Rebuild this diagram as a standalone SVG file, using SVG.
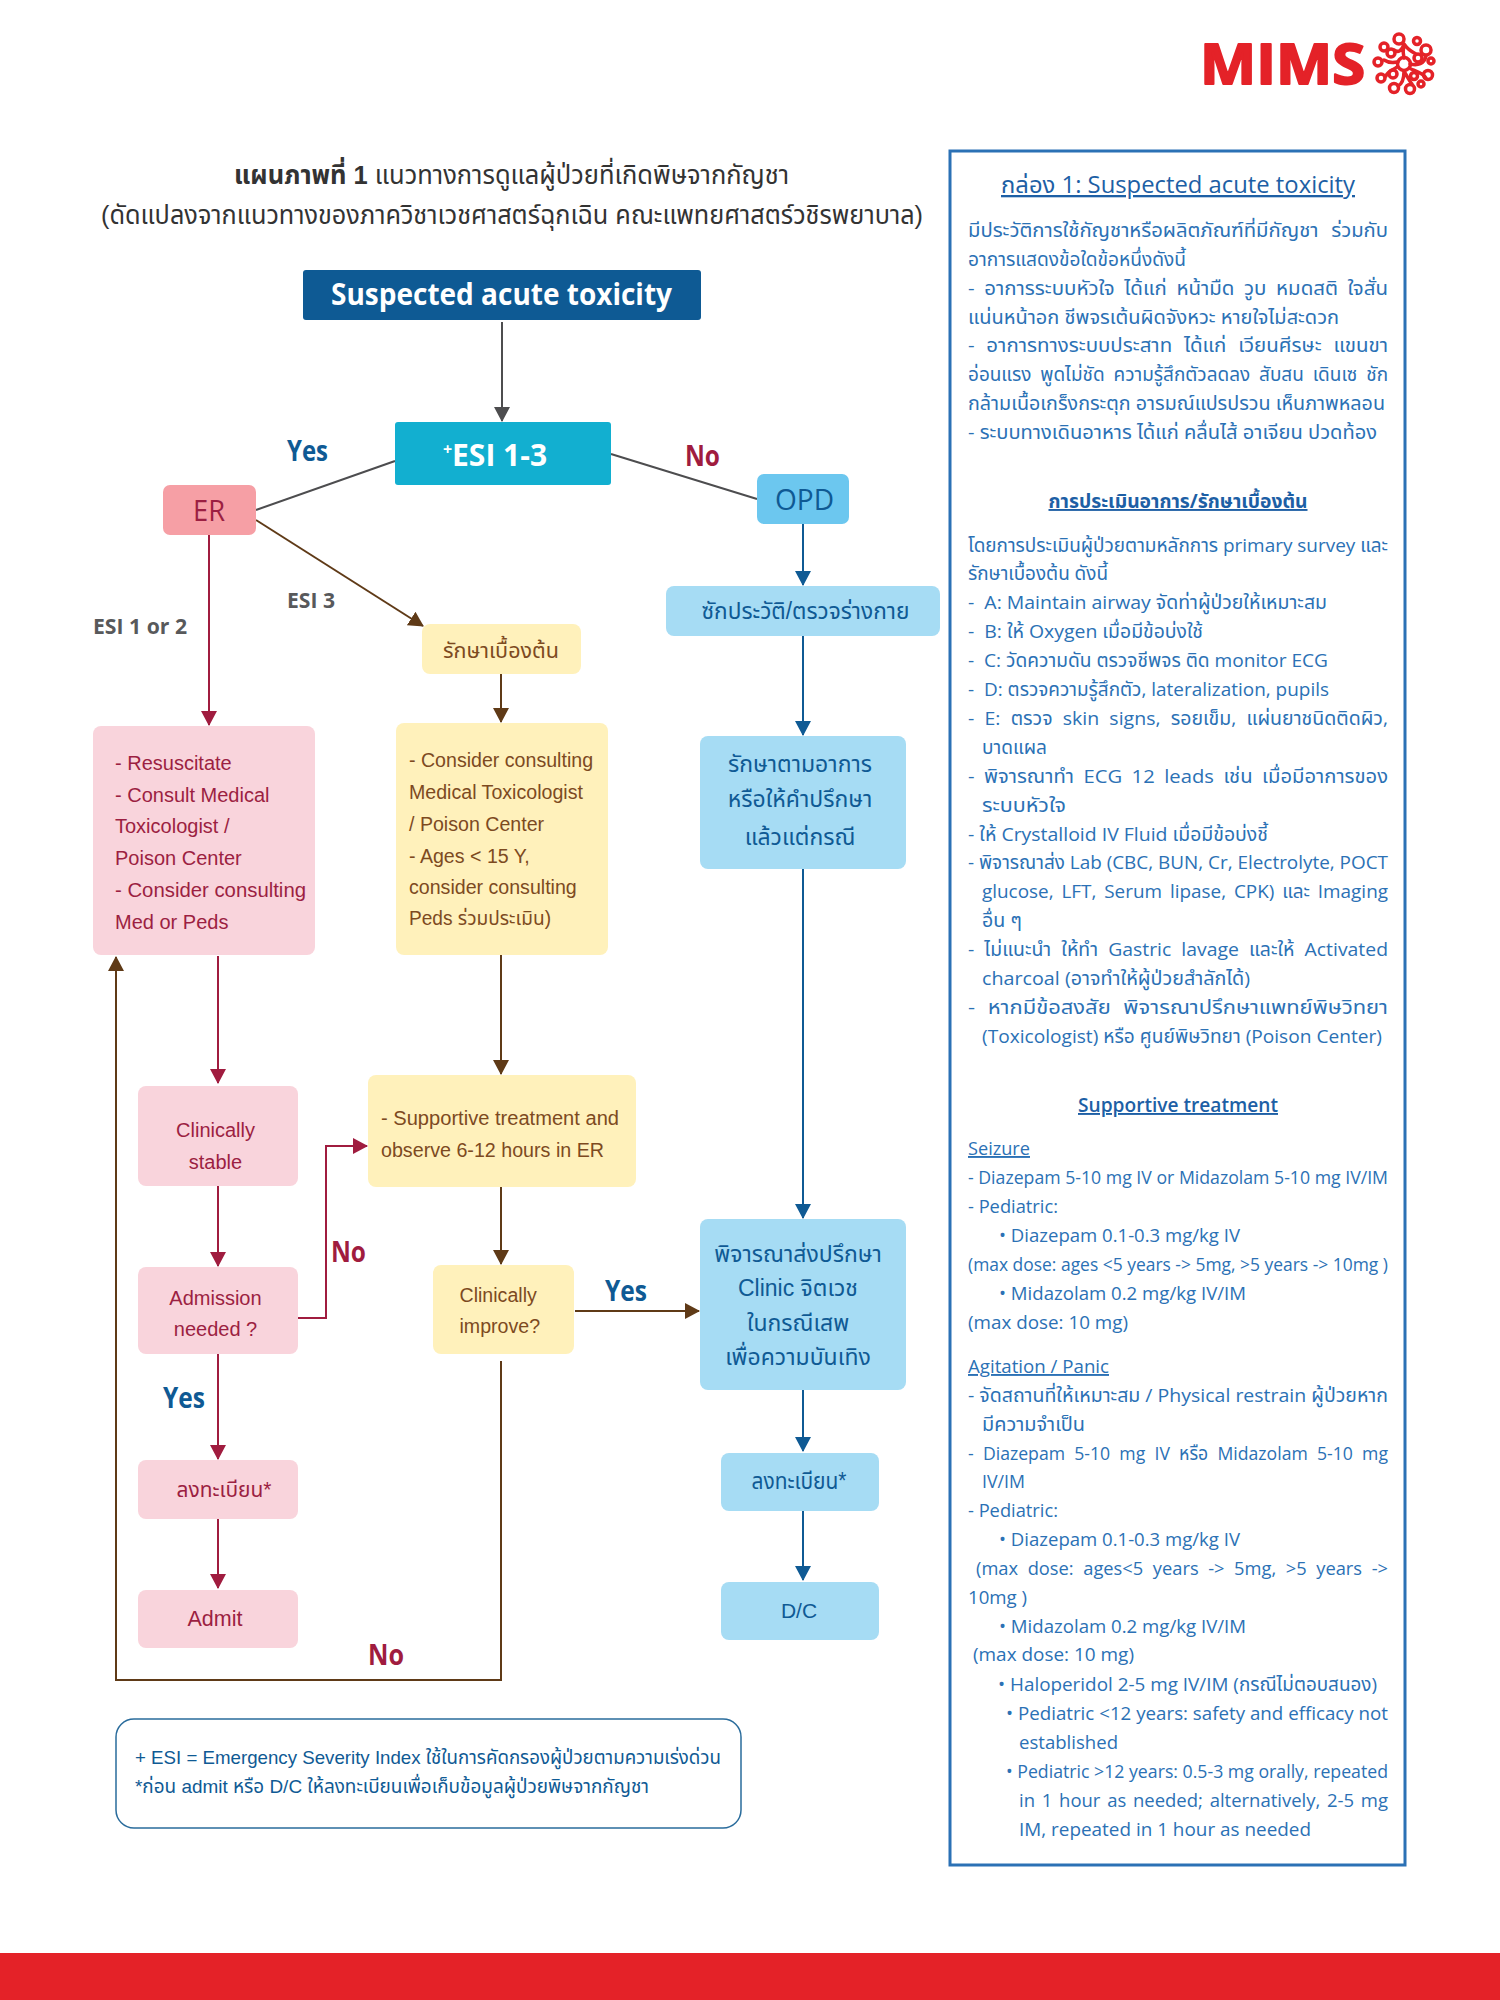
<svg xmlns="http://www.w3.org/2000/svg" width="1500" height="2000" viewBox="0 0 1500 2000">
<style>
text{font-family:"Liberation Sans","Noto Sans Thai","Noto Sans",sans-serif}
.o{font-family:"Open Sans","Noto Sans Thai","Noto Sans",sans-serif}
.c{text-anchor:middle}
.p{font-family:"Open Sans","Noto Sans Thai","Noto Sans",sans-serif;font-size:19px;fill:#2b71b5;white-space:pre}
.h{font-family:"Open Sans","Noto Sans Thai","Noto Sans",sans-serif;fill:#1d5fa5;text-anchor:middle;text-decoration:underline}
.r{font-size:20px;fill:#9c1f42}
.y{font-size:19.6px;fill:#7d4a1f}
.b{font-size:23px;fill:#0f5a94}
.l{font-family:"Open Sans",sans-serif;font-weight:700;font-size:28px}
.g{font-family:"Open Sans",sans-serif;font-weight:700;font-size:22px;fill:#58595b}
.ln{fill:none;stroke-width:2}
</style>
<defs>
<marker id="ar" markerUnits="userSpaceOnUse" markerWidth="16" markerHeight="16" refX="14" refY="8" orient="auto"><path d="M0 0L15 8L0 16z" fill="#a01c3f"/></marker>
<marker id="ab" markerUnits="userSpaceOnUse" markerWidth="16" markerHeight="16" refX="14" refY="8" orient="auto"><path d="M0 0L15 8L0 16z" fill="#0f5a94"/></marker>
<marker id="an" markerUnits="userSpaceOnUse" markerWidth="16" markerHeight="16" refX="14" refY="8" orient="auto"><path d="M0 0L15 8L0 16z" fill="#5f3a17"/></marker>
<marker id="ag" markerUnits="userSpaceOnUse" markerWidth="16" markerHeight="16" refX="14" refY="8" orient="auto"><path d="M0 0L15 8L0 16z" fill="#4d4d4f"/></marker>
</defs>
<rect x="0" y="1953" width="1500" height="47" fill="#e42228"/>
<g id="logo">
<text x="1200" y="84" font-size="56" font-weight="700" class="o" fill="#e42228" stroke="#e42228" stroke-width="2" stroke-linejoin="round" textLength="165" lengthAdjust="spacingAndGlyphs">MIMS</text>
<g fill="none" stroke="#e42228" stroke-width="3.500" stroke-linecap="round">
<circle cx="1404" cy="64" r="6.500"/>
<circle cx="1399" cy="39" r="5"/><circle cx="1417" cy="41" r="3.500"/><circle cx="1384" cy="47" r="4"/><circle cx="1426" cy="50" r="5"/>
<circle cx="1378" cy="62" r="4"/><circle cx="1431" cy="61" r="3"/><circle cx="1381" cy="78" r="4"/><circle cx="1428" cy="75" r="4.500"/>
<circle cx="1394" cy="88" r="4.500"/><circle cx="1410" cy="89" r="4.500"/><circle cx="1421" cy="84" r="3"/><circle cx="1391" cy="53" r="4"/><circle cx="1418" cy="58" r="4"/><circle cx="1393" cy="74" r="4"/><circle cx="1414" cy="76" r="3.500"/>
<path d="M1404 44C1402 51 1398 53 1394 50M1404 44C1408 50 1412 52 1416 54M1404 58C1402 50 1404 46 1404 44M1384 60C1390 64 1394 62 1398 62M1410 64C1418 66 1424 64 1426 56M1397 67C1394 70 1388 70 1386 76M1411 69C1418 72 1424 74 1426 78M1404 71C1404 78 1402 84 1398 86M1404 71C1408 78 1410 82 1412 84"/>
</g></g>
<g id="title" font-size="26" fill="#333">
<text class="c" x="511.500" y="184" textLength="555" lengthAdjust="spacingAndGlyphs"><tspan font-weight="700">แผนภาพที่ 1</tspan> แนวทางการดูแลผู้ป่วยที่เกิดพิษจากกัญชา</text>
<text class="c" x="512" y="224" textLength="822" lengthAdjust="spacingAndGlyphs">(ดัดแปลงจากแนวทางของภาควิชาเวชศาสตร์ฉุกเฉิน คณะแพทยศาสตร์วชิรพยาบาล)</text>
</g>
<g id="connectors">
<path class="ln" stroke="#4d4d4f" d="M502 322V421" marker-end="url(#ag)"/>
<path class="ln" stroke="#4d4d4f" d="M395 461L256 510M611 454L757 499"/>
<path class="ln" stroke="#5f3a17" d="M256 520L423 626" marker-end="url(#an)"/>
<path class="ln" stroke="#a01c3f" d="M209 535V725" marker-end="url(#ar)"/>
<path class="ln" stroke="#5f3a17" d="M501 674V722" marker-end="url(#an)"/>
<path class="ln" stroke="#0f5a94" d="M803 524V585" marker-end="url(#ab)"/>
<path class="ln" stroke="#0f5a94" d="M803 636V735" marker-end="url(#ab)"/>
<path class="ln" stroke="#0f5a94" d="M803 869V1218" marker-end="url(#ab)"/>
<path class="ln" stroke="#0f5a94" d="M803 1390V1451" marker-end="url(#ab)"/>
<path class="ln" stroke="#0f5a94" d="M803 1511V1580" marker-end="url(#ab)"/>
<path class="ln" stroke="#a01c3f" d="M218 956V1083" marker-end="url(#ar)"/>
<path class="ln" stroke="#a01c3f" d="M218 1186V1266" marker-end="url(#ar)"/>
<path class="ln" stroke="#a01c3f" d="M218 1354V1459" marker-end="url(#ar)"/>
<path class="ln" stroke="#a01c3f" d="M218 1519V1588" marker-end="url(#ar)"/>
<path class="ln" stroke="#a01c3f" d="M298 1318H326V1146H367" marker-end="url(#ar)"/>
<path class="ln" stroke="#5f3a17" d="M501 955V1074" marker-end="url(#an)"/>
<path class="ln" stroke="#5f3a17" d="M501 1187V1264" marker-end="url(#an)"/>
<path class="ln" stroke="#5f3a17" d="M575 1311H699" marker-end="url(#an)"/>
<path class="ln" stroke="#5f3a17" d="M501 1361V1680H116V957" marker-end="url(#an)"/>
</g>
<g id="n-suspected"><rect x="303" y="270" width="398" height="50" rx="3" fill="#0e5a94"/><text class="o c" x="501.500" y="305" font-size="30" font-weight="700" fill="#fff" textLength="341" lengthAdjust="spacingAndGlyphs">Suspected acute toxicity</text></g>
<g id="n-esi"><rect x="395" y="422" width="216" height="63" rx="3" fill="#12afd0"/><text class="o c" x="495" y="466" font-size="30" font-weight="700" fill="#fff"><tspan font-size="16" dy="-11">+</tspan><tspan dy="11">ESI 1-3</tspan></text></g>
<g id="n-er"><rect x="163" y="485" width="93" height="50" rx="7" fill="#f69fa5"/><text class="o c" x="209" y="521" font-size="30" fill="#9c1f42" textLength="32" lengthAdjust="spacingAndGlyphs">ER</text></g>
<g id="n-opd"><rect x="757" y="474" width="92" height="50" rx="7" fill="#6cc7ef"/><text class="o c" x="804.500" y="510" font-size="30" fill="#0f5a94" textLength="59" lengthAdjust="spacingAndGlyphs">OPD</text></g>
<g id="n-hx"><rect x="666" y="586" width="274" height="50" rx="8" fill="#a6dcf4"/><text class="b c" x="805.500" y="619" textLength="208" lengthAdjust="spacingAndGlyphs">ซักประวัติ/ตรวจร่างกาย</text></g>
<g id="n-init"><rect x="422" y="624" width="159" height="50" rx="8" fill="#fff1bb"/><text class="y c" x="501" y="658" style="font-size:22px" textLength="116" lengthAdjust="spacingAndGlyphs">รักษาเบื้องต้น</text></g>
<g id="n-res"><rect x="93" y="726" width="222" height="229" rx="8" fill="#f9d4dc"/>
<text class="r" x="115" y="769.500">- Resuscitate</text><text class="r" x="115" y="801.500">- Consult Medical</text><text class="r" x="115" y="833">Toxicologist /</text><text class="r" x="115" y="865">Poison Center</text><text class="r" x="115" y="897" textLength="191" lengthAdjust="spacingAndGlyphs">- Consider consulting</text><text class="r" x="115" y="929">Med or Peds</text></g>
<g id="n-cons"><rect x="396" y="723" width="212" height="232" rx="8" fill="#fff1bb"/>
<text class="y" x="409" y="767">- Consider consulting</text><text class="y" x="409" y="799">Medical Toxicologist</text><text class="y" x="409" y="831">/ Poison Center</text><text class="y" x="409" y="863">- Ages &lt; 15 Y,</text><text class="y" x="409" y="894">consider consulting</text><text class="y" x="409" y="925" textLength="142" lengthAdjust="spacingAndGlyphs">Peds ร่วมประเมิน)</text></g>
<g id="n-treat"><rect x="700" y="736" width="206" height="133" rx="8" fill="#a6dcf4"/>
<text class="b c" x="800" y="772">รักษาตามอาการ</text><text class="b c" x="800" y="807">หรือให้คำปรึกษา</text><text class="b c" x="800" y="845">แล้วแต่กรณี</text></g>
<g id="n-stable"><rect x="138" y="1086" width="160" height="100" rx="8" fill="#f9d4dc"/><text class="r c" x="215.500" y="1137">Clinically</text><text class="r c" x="215.500" y="1168.500">stable</text></g>
<g id="n-adm"><rect x="138" y="1267" width="160" height="87" rx="8" fill="#f9d4dc"/><text class="r c" x="215.500" y="1305">Admission</text><text class="r c" x="215.500" y="1336">needed ?</text></g>
<g id="n-supp"><rect x="368" y="1075" width="268" height="112" rx="8" fill="#fff1bb"/><text class="y" x="381" y="1125" textLength="238" lengthAdjust="spacingAndGlyphs">- Supportive treatment and</text><text class="y" x="381" y="1157" textLength="223" lengthAdjust="spacingAndGlyphs">observe 6-12 hours in ER</text></g>
<g id="n-impr"><rect x="433" y="1265" width="141" height="89" rx="8" fill="#fff1bb"/><text class="y" x="459.500" y="1302">Clinically</text><text class="y" x="459.500" y="1333">improve?</text></g>
<g id="n-psy"><rect x="700" y="1219" width="206" height="171" rx="8" fill="#a6dcf4"/><text class="b c" x="798" y="1262">พิจารณาส่งปรึกษา</text><text class="b c" x="798" y="1296">Clinic จิตเวช</text><text class="b c" x="798" y="1331">ในกรณีเสพ</text><text class="b c" x="798" y="1365">เพื่อความบันเทิง</text></g>
<g id="n-reg1"><rect x="138" y="1460" width="160" height="59" rx="8" fill="#f9d4dc"/><text class="r c" x="224" y="1497" style="font-size:22px" textLength="95" lengthAdjust="spacingAndGlyphs">ลงทะเบียน*</text></g>
<g id="n-admit"><rect x="138" y="1590" width="160" height="58" rx="8" fill="#f9d4dc"/><text class="r c" x="215" y="1626" style="font-size:21.500px">Admit</text></g>
<g id="n-reg2"><rect x="721" y="1453" width="158" height="58" rx="8" fill="#a6dcf4"/><text class="b c" x="799" y="1489" textLength="95" lengthAdjust="spacingAndGlyphs">ลงทะเบียน*</text></g>
<g id="n-dc"><rect x="721" y="1582" width="158" height="58" rx="8" fill="#a6dcf4"/><text class="b c" x="799" y="1618" style="font-size:21px">D/C</text></g>
<g id="labels">
<text class="l" x="287" y="461" fill="#0f5a94" textLength="41" lengthAdjust="spacingAndGlyphs">Yes</text><text class="l" x="685" y="466" fill="#a01c3f" textLength="35" lengthAdjust="spacingAndGlyphs">No</text>
<text class="g" x="287" y="608" textLength="48" lengthAdjust="spacingAndGlyphs">ESI 3</text><text class="g" x="93" y="634" textLength="94" lengthAdjust="spacingAndGlyphs">ESI 1 or 2</text>
<text class="l" x="331" y="1262" fill="#a01c3f" textLength="35" lengthAdjust="spacingAndGlyphs">No</text><text class="l" x="605" y="1301" fill="#0f5a94" textLength="42" lengthAdjust="spacingAndGlyphs">Yes</text>
<text class="l" x="163" y="1408" fill="#0f5a94" textLength="42" lengthAdjust="spacingAndGlyphs">Yes</text><text class="l" x="368" y="1665" fill="#a01c3f" textLength="36" lengthAdjust="spacingAndGlyphs">No</text>
</g>
<g id="legend"><rect x="116" y="1719" width="625" height="109" rx="18" fill="#fff" stroke="#2a6c9c" stroke-width="1.500"/>
<text x="135" y="1763.500" font-size="19" fill="#0f5a94" textLength="586" lengthAdjust="spacingAndGlyphs">+ ESI = Emergency Severity Index ใช้ในการคัดกรองผู้ป่วยตามความเร่งด่วน</text>
<text x="135" y="1793" font-size="19" fill="#0f5a94" textLength="514" lengthAdjust="spacingAndGlyphs">*ก่อน admit หรือ D/C ให้ลงทะเบียนเพื่อเก็บข้อมูลผู้ป่วยพิษจากกัญชา</text></g>
<g id="panel"><rect x="950" y="151" width="455" height="1714" fill="#fff" stroke="#2b71b5" stroke-width="3"/>
<text class="h" x="1178" y="193" font-size="23" textLength="354" lengthAdjust="spacingAndGlyphs">กล่อง 1: Suspected acute toxicity</text>
<text class="p" x="968" y="237" word-spacing="7" textLength="420" lengthAdjust="spacingAndGlyphs">มีประวัติการใช้กัญชาหรือผลิตภัณฑ์ที่มีกัญชา ร่วมกับ</text>
<text class="p" x="968" y="266" textLength="218" lengthAdjust="spacingAndGlyphs">อาการแสดงข้อใดข้อหนึ่งดังนี้</text>
<text class="p" x="968" y="295" word-spacing="4" textLength="420" lengthAdjust="spacingAndGlyphs">- อาการระบบหัวใจ ได้แก่ หน้ามืด วูบ หมดสติ ใจสั่น</text>
<text class="p" x="968" y="324" textLength="371" lengthAdjust="spacingAndGlyphs">แน่นหน้าอก ชีพจรเต้นผิดจังหวะ หายใจไม่สะดวก</text>
<text class="p" x="968" y="352" word-spacing="6" textLength="420" lengthAdjust="spacingAndGlyphs">- อาการทางระบบประสาท ได้แก่ เวียนศีรษะ แขนขา</text>
<text class="p" x="968" y="381" word-spacing="4" textLength="420" lengthAdjust="spacingAndGlyphs">อ่อนแรง พูดไม่ชัด ความรู้สึกตัวลดลง สับสน เดินเซ ชัก</text>
<text class="p" x="968" y="410" textLength="417" lengthAdjust="spacingAndGlyphs">กล้ามเนื้อเกร็งกระตุก อารมณ์แปรปรวน เห็นภาพหลอน</text>
<text class="p" x="968" y="439" textLength="409" lengthAdjust="spacingAndGlyphs">- ระบบทางเดินอาหาร ได้แก่ คลื่นไส้ อาเจียน ปวดท้อง</text>
<text class="h" x="1178" y="508" font-size="19" font-weight="700" textLength="259" lengthAdjust="spacingAndGlyphs">การประเมินอาการ/รักษาเบื้องต้น</text>
<text class="p" x="968" y="552" textLength="420" lengthAdjust="spacingAndGlyphs">โดยการประเมินผู้ป่วยตามหลักการ primary survey และ</text>
<text class="p" x="968" y="580" textLength="140" lengthAdjust="spacingAndGlyphs">รักษาเบื้องต้น ดังนี้</text>
<text class="p" x="968" y="609" textLength="359" lengthAdjust="spacingAndGlyphs">-  A: Maintain airway จัดท่าผู้ป่วยให้เหมาะสม</text>
<text class="p" x="968" y="638" textLength="235" lengthAdjust="spacingAndGlyphs">-  B: ให้ Oxygen เมื่อมีข้อบ่งใช้</text>
<text class="p" x="968" y="667" textLength="360" lengthAdjust="spacingAndGlyphs">-  C: วัดความดัน ตรวจชีพจร ติด monitor ECG</text>
<text class="p" x="968" y="696" textLength="361" lengthAdjust="spacingAndGlyphs">-  D: ตรวจความรู้สึกตัว, lateralization, pupils</text>
<text class="p" x="968" y="725" word-spacing="5" textLength="420" lengthAdjust="spacingAndGlyphs">- E: ตรวจ skin signs, รอยเข็ม, แผ่นยาชนิดติดผิว,</text>
<text class="p" x="982" y="754" textLength="65" lengthAdjust="spacingAndGlyphs">บาดแผล</text>
<text class="p" x="968" y="783" word-spacing="4" textLength="420" lengthAdjust="spacingAndGlyphs">- พิจารณาทำ ECG 12 leads เช่น เมื่อมีอาการของ</text>
<text class="p" x="982" y="812" textLength="84" lengthAdjust="spacingAndGlyphs">ระบบหัวใจ</text>
<text class="p" x="968" y="841" textLength="300" lengthAdjust="spacingAndGlyphs">- ให้ Crystalloid IV Fluid เมื่อมีข้อบ่งชี้</text>
<text class="p" x="968" y="869" textLength="420" lengthAdjust="spacingAndGlyphs">- พิจารณาส่ง Lab (CBC, BUN, Cr, Electrolyte, POCT</text>
<text class="p" x="982" y="898" word-spacing="3" textLength="406" lengthAdjust="spacingAndGlyphs">glucose, LFT, Serum lipase, CPK) และ Imaging</text>
<text class="p" x="982" y="927" textLength="40" lengthAdjust="spacingAndGlyphs">อื่น ๆ</text>
<text class="p" x="968" y="956" word-spacing="5" textLength="420" lengthAdjust="spacingAndGlyphs">- ไม่แนะนำ ให้ทำ Gastric lavage และให้ Activated</text>
<text class="p" x="982" y="985" textLength="268" lengthAdjust="spacingAndGlyphs">charcoal (อาจทำให้ผู้ป่วยสำลักได้)</text>
<text class="p" x="968" y="1014" word-spacing="6" textLength="420" lengthAdjust="spacingAndGlyphs">- หากมีข้อสงสัย พิจารณาปรึกษาแพทย์พิษวิทยา</text>
<text class="p" x="982" y="1043" textLength="400" lengthAdjust="spacingAndGlyphs">(Toxicologist) หรือ ศูนย์พิษวิทยา (Poison Center)</text>
<text class="h" x="1178" y="1112" font-size="19" font-weight="600" textLength="200" lengthAdjust="spacingAndGlyphs">Supportive treatment</text>
<text class="p" x="968" y="1155" text-decoration="underline" textLength="62" lengthAdjust="spacingAndGlyphs">Seizure</text>
<text class="p" x="968" y="1184" textLength="420" lengthAdjust="spacingAndGlyphs">- Diazepam 5-10 mg IV or Midazolam 5-10 mg IV/IM</text>
<text class="p" x="968" y="1213" textLength="90" lengthAdjust="spacingAndGlyphs">- Pediatric:</text>
<text class="p" x="999" y="1242" textLength="241" lengthAdjust="spacingAndGlyphs">• Diazepam 0.1-0.3 mg/kg IV</text>
<text class="p" x="968" y="1271" textLength="420" lengthAdjust="spacingAndGlyphs">(max dose: ages &lt;5 years -&gt; 5mg, &gt;5 years -&gt; 10mg )</text>
<text class="p" x="999" y="1300" textLength="247" lengthAdjust="spacingAndGlyphs">• Midazolam 0.2 mg/kg IV/IM</text>
<text class="p" x="968" y="1329" textLength="160" lengthAdjust="spacingAndGlyphs">(max dose: 10 mg)</text>
<text class="p" x="968" y="1373" text-decoration="underline" textLength="141" lengthAdjust="spacingAndGlyphs">Agitation / Panic</text>
<text class="p" x="968" y="1402" textLength="420" lengthAdjust="spacingAndGlyphs">- จัดสถานที่ให้เหมาะสม / Physical restrain ผู้ป่วยหาก</text>
<text class="p" x="982" y="1431" textLength="103" lengthAdjust="spacingAndGlyphs">มีความจำเป็น</text>
<text class="p" x="968" y="1459.500" word-spacing="5" textLength="420" lengthAdjust="spacingAndGlyphs">- Diazepam 5-10 mg IV หรือ Midazolam 5-10 mg</text>
<text class="p" x="982" y="1488" textLength="43" lengthAdjust="spacingAndGlyphs">IV/IM</text>
<text class="p" x="968" y="1517" textLength="90" lengthAdjust="spacingAndGlyphs">- Pediatric:</text>
<text class="p" x="999" y="1546" textLength="241" lengthAdjust="spacingAndGlyphs">• Diazepam 0.1-0.3 mg/kg IV</text>
<text class="p" x="976" y="1575" word-spacing="5" textLength="412" lengthAdjust="spacingAndGlyphs">(max dose: ages&lt;5 years -&gt; 5mg, &gt;5 years -&gt;</text>
<text class="p" x="968" y="1604" textLength="59" lengthAdjust="spacingAndGlyphs">10mg )</text>
<text class="p" x="999" y="1632.500" textLength="247" lengthAdjust="spacingAndGlyphs">• Midazolam 0.2 mg/kg IV/IM</text>
<text class="p" x="973" y="1661" textLength="161" lengthAdjust="spacingAndGlyphs">(max dose: 10 mg)</text>
<text class="p" x="998" y="1691" textLength="379" lengthAdjust="spacingAndGlyphs">• Haloperidol 2-5 mg IV/IM (กรณีไม่ตอบสนอง)</text>
<text class="p" x="1006" y="1720" textLength="382" lengthAdjust="spacingAndGlyphs">• Pediatric &lt;12 years: safety and efficacy not</text>
<text class="p" x="1019" y="1748.500" textLength="99" lengthAdjust="spacingAndGlyphs">established</text>
<text class="p" x="1006" y="1777.500" textLength="382" lengthAdjust="spacingAndGlyphs">• Pediatric &gt;12 years: 0.5-3 mg orally, repeated</text>
<text class="p" x="1019" y="1806.500" word-spacing="2" textLength="369" lengthAdjust="spacingAndGlyphs">in 1 hour as needed; alternatively, 2-5 mg</text>
<text class="p" x="1019" y="1835.500" textLength="292" lengthAdjust="spacingAndGlyphs">IM, repeated in 1 hour as needed</text>
</g>
</svg>
